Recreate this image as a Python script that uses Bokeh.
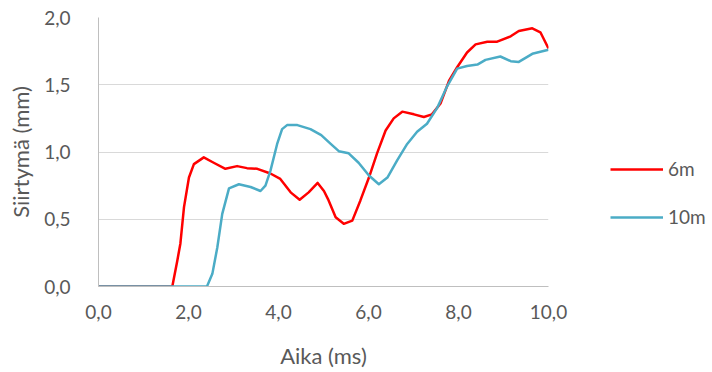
from bokeh.plotting import figure
from bokeh.layouts import row
from bokeh.models import Range1d, FixedTicker, CustomJSTickFormatter, Legend, LegendItem
from bokeh.embed import file_html
from bokeh.resources import INLINE

# Data (time in ms, displacement in mm)
x_6m = [0.0, 1.64, 1.75, 1.82, 1.90, 2.01, 2.12, 2.34, 2.56, 2.82, 3.08, 3.30, 3.53, 3.82,
        4.04, 4.27, 4.47, 4.67, 4.87, 5.01, 5.10, 5.27, 5.45, 5.64, 5.82, 6.01, 6.19,
        6.38, 6.56, 6.75, 7.01, 7.23, 7.41, 7.60, 7.79, 7.97, 8.19, 8.38, 8.64, 8.86,
        9.16, 9.34, 9.64, 9.82, 10.0]
y_6m = [0.0, 0.0, 0.19, 0.32, 0.59, 0.81, 0.91, 0.96, 0.92, 0.875, 0.895, 0.88, 0.875, 0.84,
        0.80, 0.70, 0.645, 0.70, 0.77, 0.71, 0.65, 0.515, 0.466, 0.49, 0.64, 0.81, 0.99,
        1.16, 1.25, 1.30, 1.28, 1.26, 1.28, 1.36, 1.53, 1.63, 1.74, 1.80, 1.82, 1.82,
        1.86, 1.90, 1.92, 1.89, 1.77]

x_10m = [0.0, 2.41, 2.53, 2.64, 2.75, 2.90, 3.12, 3.38, 3.60, 3.71, 3.82, 3.97, 4.08, 4.19,
         4.42, 4.71, 4.95, 5.16, 5.34, 5.56, 5.78, 6.01, 6.23, 6.42, 6.64, 6.86, 7.08,
         7.30, 7.53, 7.75, 7.97, 8.19, 8.42, 8.60, 8.93, 9.16, 9.34, 9.64, 10.0]
y_10m = [0.0, 0.0, 0.094, 0.29, 0.54, 0.73, 0.76, 0.74, 0.71, 0.75, 0.86, 1.06, 1.17, 1.20,
         1.20, 1.17, 1.125, 1.06, 1.006, 0.99, 0.92, 0.825, 0.76, 0.81, 0.94, 1.06, 1.15,
         1.21, 1.33, 1.49, 1.62, 1.64, 1.65, 1.685, 1.71, 1.675, 1.67, 1.73, 1.76]

x_ticks = [0, 2, 4, 6, 8, 10]
y_ticks = [0, 0.5, 1.0, 1.5, 2.0]
series_names = ["6m", "10m"]
series_colors = ["#FF0000", "#4BACC6"]

FONT = "Lato"
TXT = "#595959"

p = figure(width=570, height=372, output_backend="svg", toolbar_location=None,
           x_range=Range1d(0, 10), y_range=Range1d(0, 2),
           min_border_left=98, min_border_right=22, min_border_top=17, min_border_bottom=86)
p.outline_line_color = None
p.background_fill_color = "white"

p.xgrid.grid_line_color = None
p.ygrid.grid_line_color = "#D9D9D9"
p.ygrid.grid_line_width = 1

fmt = CustomJSTickFormatter(code="return tick.toFixed(1).replace('.', ',');")
for ax, ticks in ((p.xaxis[0], x_ticks), (p.yaxis[0], y_ticks)):
    ax.ticker = FixedTicker(ticks=ticks)
    ax.formatter = fmt
    ax.major_tick_line_color = None
    ax.minor_tick_line_color = None
    ax.axis_line_color = "#BFBFBF"
    ax.major_label_text_font = FONT
    ax.major_label_text_font_size = "19px"
    ax.major_label_text_color = TXT
    ax.axis_label_text_font = FONT
    ax.axis_label_text_font_size = "22px"
    ax.axis_label_text_color = TXT
    ax.axis_label_text_font_style = "normal"

p.xaxis.axis_label = "Aika (ms)"
p.yaxis.axis_label = "Siirtymä (mm)"
p.xaxis.major_label_standoff = 12
p.yaxis.major_label_standoff = 22
p.xaxis.axis_label_standoff = 20
p.yaxis.axis_label_standoff = 7

p.line(x_6m, y_6m, line_color=series_colors[0], line_width=2.5, line_join="round")
p.line(x_10m, y_10m, line_color=series_colors[1], line_width=2.5, line_join="round")

# Legend panel to the right (its frame aligns with the main frame: y 17..286)
lg = figure(width=142, height=372, output_backend="svg", toolbar_location=None,
            x_range=Range1d(0, 1), y_range=Range1d(0, 1),
            x_axis_location=None, y_axis_location=None,
            min_border_left=0, min_border_right=0, min_border_top=17, min_border_bottom=86)
lg.outline_line_color = None
lg.grid.grid_line_color = None
nan = float("nan")
d1 = lg.line([nan, nan], [nan, nan], line_color=series_colors[0], line_width=2.5)
d2 = lg.line([nan, nan], [nan, nan], line_color=series_colors[1], line_width=2.5)

legend = Legend(items=[LegendItem(label=series_names[0], renderers=[d1]),
                       LegendItem(label=series_names[1], renderers=[d2])],
                location=(40, 58), orientation="vertical")
legend.border_line_color = None
legend.background_fill_alpha = 0
legend.padding = 0
legend.margin = 0
legend.spacing = 25
legend.glyph_width = 53
legend.glyph_height = 20
legend.label_standoff = 5
legend.label_text_font = FONT
legend.label_text_font_size = "19px"
legend.label_text_color = TXT
lg.add_layout(legend, "center")

layout = row(p, lg, spacing=0)
open("out.html", "w").write(file_html(layout, INLINE))
